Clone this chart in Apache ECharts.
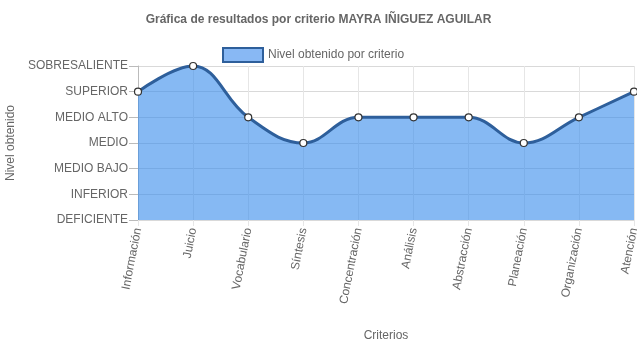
<!DOCTYPE html>
<html><head><meta charset="utf-8">
<script src="https://cdn.jsdelivr.net/npm/echarts@6/dist/echarts.min.js"></script>
<style>html,body{margin:0;padding:0;background:#fff}#c{width:637px;height:348px}</style>
</head><body><div id="c"></div>
<script>
const titleText = 'Gráfica de resultados por criterio MAYRA IÑIGUEZ AGUILAR';
const seriesName = 'Nivel obtenido por criterio';
const categories = ['Información','Juicio','Vocabulario','Síntesis','Concentración','Análisis','Abstracción','Planeación','Organización','Atención'];
const levelLabels = ['DEFICIENTE','INFERIOR','MEDIO BAJO','MEDIO','MEDIO ALTO','SUPERIOR','SOBRESALIENTE'];
const values = [5,6,4,3,4,4,4,3,4,5];

const font = 'Liberation Sans, Arial, Helvetica, sans-serif';
const chart = echarts.init(document.getElementById('c'), null, {renderer:'canvas'});
chart.setOption({
  animation:false,
  title:{text:titleText,left:'center',top:9,textStyle:{fontFamily:font,fontSize:12,fontWeight:'bold',color:'#666'}},
  legend:{top:42,left:217,itemWidth:40,itemHeight:14,itemGap:6,
    textStyle:{fontFamily:font,fontSize:12,color:'#666'},
    data:[{name:seriesName,icon:'rect',itemStyle:{color:'#88b8f4',borderColor:'#2e5f9b',borderWidth:2}}]},
  grid:{left:138,right:3,top:66,bottom:128,containLabel:false,outerBoundsMode:'none'},
  xAxis:{type:'category',data:categories,boundaryGap:false,
    name:'Criterios',nameLocation:'middle',nameGap:110,
    nameTextStyle:{fontFamily:font,fontSize:12,color:'#666'},
    axisLine:{show:false},axisTick:{show:true,alignWithLabel:true,length:6,lineStyle:{color:'#e6e6e6'}},
    axisLabel:{rotate:79,fontFamily:font,fontSize:12,color:'#666',margin:8,interval:0},
    splitLine:{show:true,lineStyle:{color:'#e6e6e6',width:1}}},
  yAxis:{type:'value',min:0,max:6,interval:1,
    name:'Nivel obtenido',nameLocation:'middle',nameGap:118,nameRotate:90,
    nameTextStyle:{fontFamily:font,fontSize:12,color:'#666'},
    axisLine:{show:true,lineStyle:{color:'#bbb'}},
    axisTick:{show:true,length:9,lineStyle:{color:'#bbb'}},
    axisLabel:{fontFamily:font,fontSize:12,color:'#666',margin:10,formatter:v=>levelLabels[v]},
    splitLine:{show:true,lineStyle:{color:'#d9d9d9',width:1}}},
  series:[{name:seriesName,type:'line',data:values,smooth:0.4,
    symbol:'circle',symbolSize:7,showSymbol:true,
    lineStyle:{color:'#2e5f9b',width:3},
    itemStyle:{color:'#fff',borderColor:'#333',borderWidth:1.2},
    areaStyle:{color:'rgba(54,138,235,0.6)',opacity:1,origin:'start'},
    z:2}]
});
</script></body></html>
